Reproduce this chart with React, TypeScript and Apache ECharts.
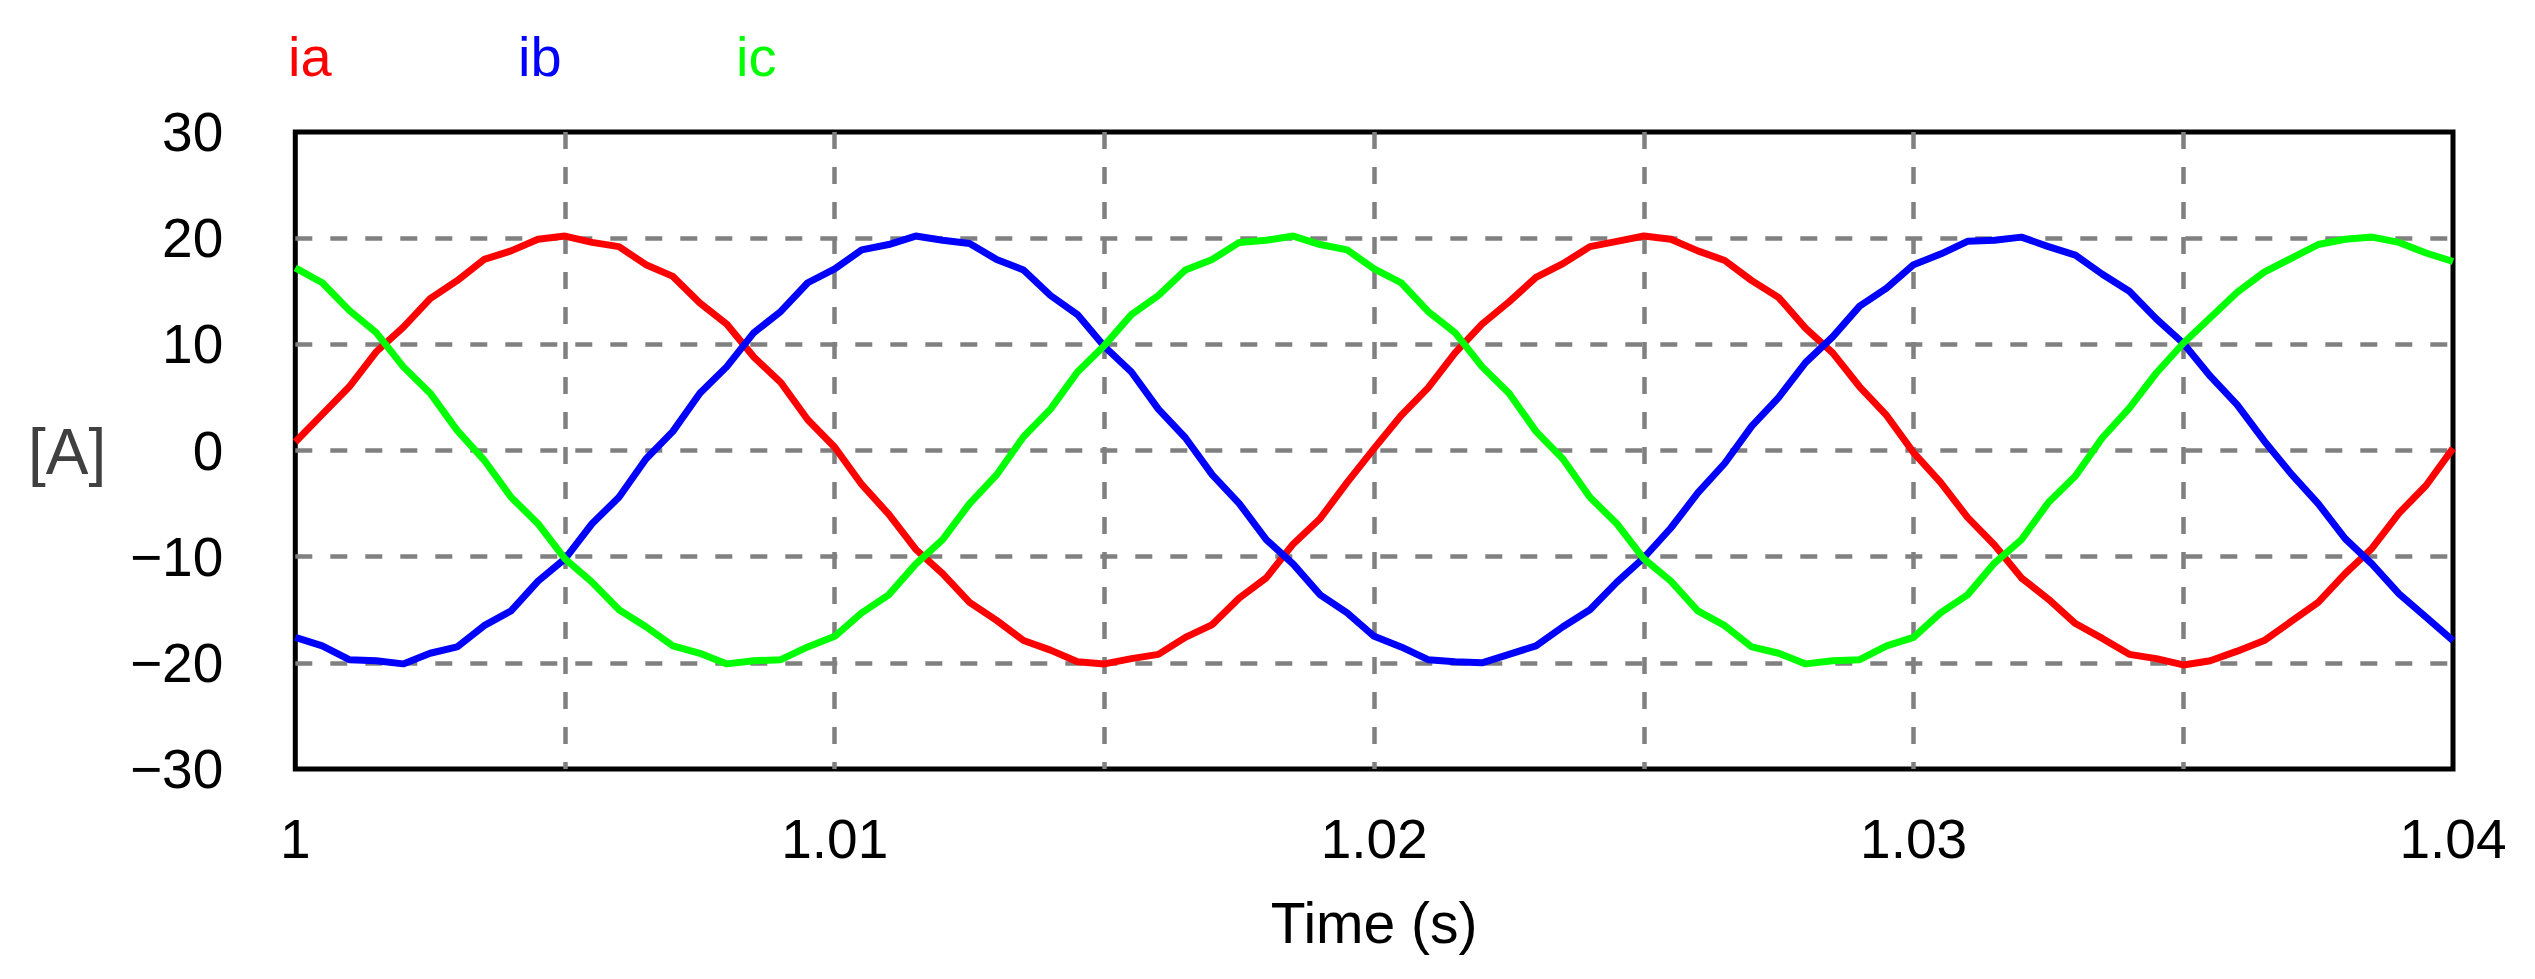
import React, { useEffect, useRef } from "react";
import * as echarts from "echarts";

// sample times (s)
const timeS: number[] = [
  1.0, 1.0005, 1.001, 1.0015, 1.002, 1.0025, 1.003, 1.0035, 1.004, 1.0045,
  1.005, 1.0055, 1.006, 1.0065, 1.007, 1.0075, 1.008, 1.0085, 1.009, 1.0095,
  1.01, 1.0105, 1.011, 1.0115, 1.012, 1.0125, 1.013, 1.0135, 1.014, 1.0145,
  1.015, 1.0155, 1.016, 1.0165, 1.017, 1.0175, 1.018, 1.0185, 1.019, 1.0195,
  1.02, 1.0205, 1.021, 1.0215, 1.022, 1.0225, 1.023, 1.0235, 1.024, 1.0245,
  1.025, 1.0255, 1.026, 1.0265, 1.027, 1.0275, 1.028, 1.0285, 1.029, 1.0295,
  1.03, 1.0305, 1.031, 1.0315, 1.032, 1.0325, 1.033, 1.0335, 1.034, 1.0345,
  1.035, 1.0355, 1.036, 1.0365, 1.037, 1.0375, 1.038, 1.0385, 1.039, 1.0395,
  1.04,
];

// phase currents (A)
const ia: number[] = [
  0.8, 3.4, 6.0, 9.3, 11.6, 14.3, 16.0, 18.0, 18.8, 19.9,
  20.2, 19.6, 19.2, 17.5, 16.4, 13.9, 11.9, 8.8, 6.4, 2.9,
  0.3, -3.2, -6.0, -9.3, -11.6, -14.3, -16.0, -17.9, -18.8, -19.9,
  -20.1, -19.6, -19.2, -17.6, -16.4, -13.9, -12.0, -8.8, -6.4, -3.0,
  0.2, 3.3, 5.9, 9.2, 11.9, 14.0, 16.3, 17.6, 19.2, 19.7,
  20.2, 19.9, 18.8, 17.9, 16.0, 14.4, 11.5, 9.2, 6.0, 3.3,
  -0.2, -3.0, -6.3, -8.9, -12.0, -14.0, -16.3, -17.7, -19.2, -19.6,
  -20.2, -19.8, -18.9, -17.9, -16.1, -14.3, -11.6, -9.2, -5.9, -3.3,
  0.2,
];
const ib: number[] = [
  -17.6, -18.4, -19.7, -19.8, -20.1, -19.1, -18.5, -16.5, -15.1, -12.3,
  -10.2, -6.9, -4.4, -0.8, 1.8, 5.4, 7.9, 11.1, 13.1, 15.8,
  17.1, 18.9, 19.4, 20.2, 19.8, 19.5, 18.0, 17.0, 14.6, 12.8,
  9.8, 7.4, 3.9, 1.2, -2.3, -5.0, -8.4, -10.7, -13.6, -15.3,
  -17.5, -18.5, -19.7, -19.9, -20.0, -19.2, -18.4, -16.6, -15.0, -12.4,
  -10.1, -7.3, -4.0, -1.2, 2.3, 5.0, 8.3, 10.7, 13.6, 15.3,
  17.5, 18.5, 19.7, 19.8, 20.1, 19.2, 18.4, 16.6, 15.0, 12.4,
  10.1, 7.0, 4.3, 0.9, -2.2, -5.0, -8.3, -10.7, -13.5, -15.7,
  -17.9,
];
const ic: number[] = [
  17.2, 15.8, 13.2, 11.1, 7.9, 5.4, 1.9, -0.9, -4.4, -6.9,
  -10.2, -12.4, -15.0, -16.6, -18.4, -19.1, -20.1, -19.8, -19.7, -18.5,
  -17.5, -15.3, -13.6, -10.7, -8.4, -5.0, -2.3, 1.3, 3.9, 7.4,
  9.9, 12.8, 14.6, 17.0, 18.0, 19.6, 19.8, 20.2, 19.4, 18.9,
  17.1, 15.8, 13.1, 11.1, 7.9, 5.4, 1.8, -0.8, -4.4, -6.9,
  -10.2, -12.3, -15.1, -16.5, -18.5, -19.1, -20.1, -19.8, -19.7, -18.4,
  -17.6, -15.3, -13.6, -10.6, -8.4, -4.9, -2.4, 1.2, 4.0, 7.3,
  10.1, 12.5, 14.9, 16.8, 18.1, 19.4, 19.9, 20.1, 19.6, 18.6,
  17.8,
];

const seriesNames = ["ia", "ib", "ic"];
const seriesColors = ["#ff0000", "#0000ff", "#00ff00"];

const xTickLabels = ["1", "1.01", "1.02", "1.03", "1.04"];
const yTickLabels = ["\u221230", "\u221220", "\u221210", "0", "10", "20", "30"];
const X_MIN = 1;
const X_MAX = 1.04;
const X_GRID_STEP = 0.005;
const Y_MIN = -30;
const Y_MAX = 30;
const Y_STEP = 10;

const FONT = '"Liberation Sans", Arial, sans-serif';

export default function App() {
  const ref = useRef<HTMLDivElement>(null);

  useEffect(() => {
    if (!ref.current) return;
    const chart = echarts.init(ref.current, null, { renderer: "svg" });
    const dataSets = [ia, ib, ic];
    const labelX = [288, 518, 736];

    chart.setOption({
      animation: false,
      backgroundColor: "#ffffff",
      grid: {
        left: 295.3,
        right: 82,
        top: 132,
        bottom: 210,
        show: true,
        borderColor: "#000000",
        borderWidth: 5,
        backgroundColor: "transparent",
        containLabel: false,
        outerBoundsMode: "none",
      },
      xAxis: {
        type: "value",
        min: X_MIN,
        max: X_MAX,
        interval: X_GRID_STEP,
        name: "Time (s)",
        nameLocation: "middle",
        nameGap: 125,
        nameTextStyle: { color: "#000000", fontSize: 57, fontFamily: FONT },
        axisLine: { show: false },
        axisTick: { show: false },
        axisLabel: {
          color: "#000000",
          fontSize: 55,
          fontFamily: FONT,
          margin: 42,
          showMinLabel: true,
          showMaxLabel: true,
          hideOverlap: false,
          formatter: (v: number) => {
            const idx = Math.round((v - X_MIN) / X_GRID_STEP);
            return idx % 2 === 0 ? xTickLabels[idx / 2] ?? "" : "";
          },
        },
        splitLine: {
          show: true,
          showMinLine: false,
          showMaxLine: false,
          lineStyle: { color: "#808080", width: 4.5, type: [17, 18] },
        },
      },
      yAxis: {
        type: "value",
        min: Y_MIN,
        max: Y_MAX,
        interval: Y_STEP,
        axisLine: { show: false },
        axisTick: { show: false },
        axisLabel: {
          color: "#000000",
          fontSize: 55,
          fontFamily: FONT,
          margin: 72,
          formatter: (v: number) => {
            const idx = Math.round((v - Y_MIN) / Y_STEP);
            return yTickLabels[idx] ?? "";
          },
        },
        splitLine: {
          show: true,
          showMinLine: false,
          showMaxLine: false,
          lineStyle: { color: "#808080", width: 4.5, type: [17, 18] },
        },
      },
      series: dataSets.map((d, i) => ({
        name: seriesNames[i],
        type: "line",
        data: timeS.map((t, k) => [t, d[k]]),
        showSymbol: false,
        smooth: false,
        clip: true,
        lineStyle: { color: seriesColors[i], width: 7 },
        itemStyle: { color: seriesColors[i] },
        z: 3 + i,
      })),
      graphic: [
        ...seriesNames.map((n, i) => ({
          type: "text",
          left: labelX[i],
          top: 28,
          style: {
            text: n,
            fill: seriesColors[i],
            font: `56px ${FONT}`,
          },
        })),
        {
          type: "text",
          left: 28,
          top: 420,
          style: {
            text: "[A]",
            fill: "#404040",
            font: `64px ${FONT}`,
          },
        },
      ],
    });

    return () => {
      chart.dispose();
    };
  }, []);

  return (
    <div
      ref={ref}
      style={{
        position: "fixed",
        left: 0,
        top: 0,
        width: 2535,
        height: 979,
        background: "#ffffff",
      }}
    />
  );
}
